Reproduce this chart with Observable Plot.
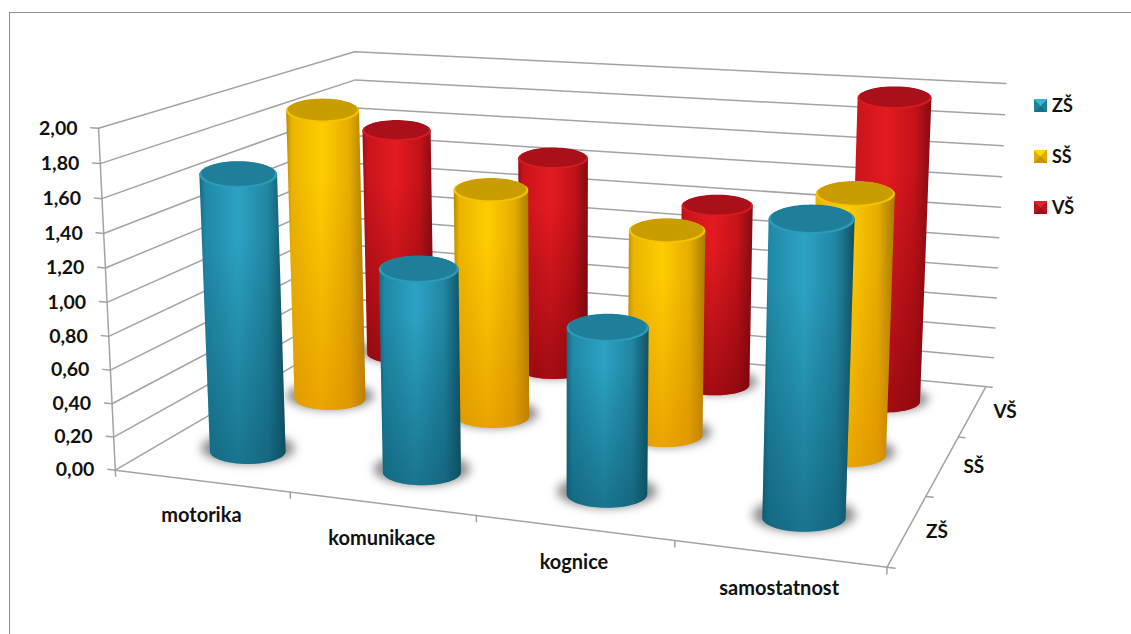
<!DOCTYPE html>
<html lang="cs">
<head>
<meta charset="utf-8">
<script src="https://cdn.jsdelivr.net/npm/d3@7"></script>
<script src="https://cdn.jsdelivr.net/npm/@observablehq/plot@0.6"></script>
<style>
  html, body { margin: 0; background: #fff; }
  #chart { position: relative; width: 1131px; height: 634px; overflow: hidden; font-family: Lato, sans-serif; }
  #frame { position: absolute; left: 9px; top: 12px; right: -4px; bottom: -4px; border: 1.6px solid #8f8f8f; }
  #legend { position: absolute; left: 1034px; top: 0; font-weight: 700; font-size: 18px; color: #111; }
  #legend .item { position: absolute; left: 0; white-space: nowrap; line-height: 20px; }
  #legend .key { position: absolute; left: 0; top: 4px; width: 13px; height: 13px; }
  #legend .name { position: absolute; left: 18px; top: 0; }
  svg { position: absolute; left: 0; top: 0; }
</style>
</head>
<body>
<div id="chart"><div id="frame"></div></div>
<script>
// Mean scores by education level across four domains.
const categories = ["motorika", "komunikace", "kognice", "samostatnost"];
const seriesNames = ["ZŠ", "SŠ", "VŠ"];
const valuesZS = [1.67, 1.20, 0.96, 1.65];
const valuesSS = [1.87, 1.44, 1.27, 1.57];
const valuesVS = [1.56, 1.44, 1.20, 1.96];
const seriesValues = [valuesZS, valuesSS, valuesVS];
const valueTicks = [0, 0.2, 0.4, 0.6, 0.8, 1, 1.2, 1.4, 1.6, 1.8, 2];
const valueMax = 2;

const width = 1131, height = 634;

// Camera calibration: box corners in (category, series, value) unit space → screen.
const cameraAnchors = [
  [0, 0, 0, 119, 468], [1, 0, 0, 887, 568], [1, 1, 0, 987, 385], [0, 1, 0, 355, 328],
  [0, 0, 1, 93, 129], [0, 1, 1, 360, 50], [1, 1, 1, 997, 83], [0.25, 0, 0, 290, 491]
];

function solveCamera(anchors) {
  const rows = [], rhs = [];
  for (const [X, Y, Z, x, y] of anchors) {
    rows.push([X, Y, Z, 1, 0, 0, 0, 0, -x * X, -x * Y, -x * Z]); rhs.push(x);
    rows.push([0, 0, 0, 0, X, Y, Z, 1, -y * X, -y * Y, -y * Z]); rhs.push(y);
  }
  const n = 11;
  const M = d3.range(n).map(i => d3.range(n + 1).map(j =>
    j < n ? d3.sum(rows, r => r[i] * r[j]) : d3.sum(rows, (r, k) => r[i] * rhs[k])));
  for (let c = 0; c < n; c++) {
    let p = c;
    for (let r = c + 1; r < n; r++) if (Math.abs(M[r][c]) > Math.abs(M[p][c])) p = r;
    [M[c], M[p]] = [M[p], M[c]];
    for (let r = 0; r < n; r++) if (r !== c) {
      const f = M[r][c] / M[c][c];
      for (let k = c; k <= n; k++) M[r][k] -= f * M[c][k];
    }
  }
  return M.map((row, i) => row[n] / row[i]);
}
const cam = solveCamera(cameraAnchors);
function project(u, v, w) {
  const d = cam[8] * u + cam[9] * v + cam[10] * w + 1;
  return [(cam[0] * u + cam[1] * v + cam[2] * w + cam[3]) / d,
          (cam[4] * u + cam[5] * v + cam[6] * w + cam[7]) / d];
}

// Cylinder rings: width follows the local category scale, the ellipse stays level on screen
// and flattens a little towards the back of the box.
const radiusU = 0.053;
const steps = d3.range(0, 72);
function ring(u, v, w, scale = 1, lift = 0) {
  const [cx, cy] = project(u, v, w);
  const taper = 1.07 - 0.12 * u;
  const aspect = 0.345 - 0.06 * v;
  const rx = (project(u + radiusU, v, w)[0] - project(u - radiusU, v, w)[0]) / 2 * scale * taper;
  return steps.map(i => {
    const t = i / 72 * 2 * Math.PI;
    return [cx + rx * Math.cos(t), cy - lift + rx * aspect * Math.sin(t)];
  });
}

const palette = [
  {id: "zs", cap: "#1f7f9b", rim: "#2b9dbc", low: "#0a4f63",
   stops: [[0, "#17677f"], [0.07, "#2088a6"], [0.45, "#2ca3c4"], [0.8, "#2185a2"], [1, "#124f62"]]},
  {id: "ss", cap: "#c99d00", rim: "#f5c400", low: "#d98500",
   stops: [[0, "#b58a00"], [0.07, "#eab400"], [0.45, "#ffcd00"], [0.8, "#e6ad00"], [1, "#a67b00"]]},
  {id: "vs", cap: "#aa1019", rim: "#d81c22", low: "#6d0008",
   stops: [[0, "#98101a"], [0.07, "#c8141b"], [0.45, "#e41b20"], [0.8, "#c31219"], [1, "#840c13"]]}
];

const gradients = () => {
  const defs = d3.create("svg:defs");
  for (const p of palette) {
    const g = defs.append("linearGradient").attr("id", `body-${p.id}`);
    for (const [o, c] of p.stops) g.append("stop").attr("offset", o).attr("stop-color", c);
    const s = defs.append("linearGradient").attr("id", `low-${p.id}`)
      .attr("x1", 0).attr("x2", 0).attr("y1", 0).attr("y2", 1);
    s.append("stop").attr("offset", 0.25).attr("stop-color", p.low).attr("stop-opacity", 0);
    s.append("stop").attr("offset", 1).attr("stop-color", p.low).attr("stop-opacity", 0.55);
  }
  return defs.node();
};

const outline = (pts, opts) => Plot.line(pts, {x: "0", y: "1", curve: "linear", strokeWidth: 0, stroke: "none", ...opts});

function cylinder(i, j) {
  const value = seriesValues[j][i], p = palette[j];
  const u = (i + 0.5) / categories.length, v = (j + 0.5) / seriesNames.length, w = value / valueMax;
  const hull = d3.polygonHull([...ring(u, v, 0), ...ring(u, v, w)]);
  return [
    outline(ring(u, v, 0, 1.24, 3), {fill: "#333", fillOpacity: 0.55, imageFilter: "blur(5px)"}),
    outline(hull, {fill: `url(#body-${p.id})`}),
    outline(hull, {fill: `url(#low-${p.id})`}),
    outline(ring(u, v, w), {fill: p.rim}),
    outline(ring(u, v, w, 0.95, 1.2), {fill: p.cap, imageFilter: "blur(0.7px)"})
  ];
}

const gridStyle = {x: "0", y: "1", stroke: "#a3a3a3", strokeWidth: 1.5};
const seg = (a, b) => Plot.line([project(...a), project(...b)], gridStyle);

const marks = [gradients];
for (const t of valueTicks) {
  const w = t / valueMax;
  marks.push(Plot.line([project(-0.011, 0, w), project(0, 0, w), project(0, 1, w), project(1.009, 1, w)], gridStyle));
}
marks.push(seg([0, 0, 0], [0, 0, 1]));
marks.push(seg([0, 0, 0], [1, 0, 0]));
marks.push(seg([1, 0, 0], [1, 1, 0]));
for (const i of d3.range(categories.length + 1)) {
  marks.push(seg([i / categories.length, 0, 0], [i / categories.length, 0, -0.018]));
}
for (const j of d3.range(seriesNames.length)) {
  marks.push(seg([1, j / seriesNames.length, 0], [1.009, j / seriesNames.length, 0]));
}
for (const j of d3.range(seriesNames.length - 1, -1, -1)) {
  for (const i of d3.range(categories.length)) marks.push(...cylinder(i, j));
}

// Axis labels, placed from the same projection as the box.
const labelFont = {fontFamily: "Lato, sans-serif", fontWeight: 700, fill: "#111", stroke: "none"};
marks.push(Plot.text(valueTicks, {
  x: t => project(0, 0, t / valueMax)[0], y: t => project(0, 0, t / valueMax)[1],
  text: t => t.toFixed(2).replace(".", ","), textAnchor: "end", dx: -21, fontSize: 19.5, ...labelFont
}));
marks.push(Plot.text(categories, {
  x: (d, i) => project((i + 0.5) / categories.length, 0, 0)[0],
  y: (d, i) => project((i + 0.5) / categories.length, 0, 0)[1],
  text: d => d, textAnchor: "middle", dy: 35, fontSize: 20, ...labelFont
}));
marks.push(Plot.text(seriesNames, {
  x: (d, j) => project(1.035 + 0.005 * j, (j + 0.5) / seriesNames.length, 0)[0],
  y: (d, j) => project(1.035 + 0.005 * j, (j + 0.5) / seriesNames.length, 0)[1],
  text: d => d, textAnchor: "middle", dy: -2, fontSize: 19, ...labelFont
}));

const chart = Plot.plot({
  width, height, margin: 0,
  x: {type: "linear", domain: [0, width], range: [0, width], axis: null},
  y: {type: "linear", domain: [0, height], range: [0, height], axis: null},
  marks
});
const host = document.getElementById("chart");
host.appendChild(chart);

// Legend with bevelled colour keys, stacked on the right of the box.
const legend = document.createElement("div");
legend.id = "legend";
const legendKeys = [["#1c7f9c", "#3bb4d2", "#1a6e86"], ["#e3ac00", "#ffd800", "#c69400"], ["#b8141b", "#dc262b", "#9a0f16"]];
seriesNames.forEach((name, j) => {
  const item = document.createElement("div");
  item.className = "item";
  item.style.top = (95 + j * 51) + "px";
  const [mid, hi, lo] = legendKeys[j];
  item.innerHTML = `<span class="key" style="background:conic-gradient(from 315deg, ${hi} 0 25%, ${mid} 25% 50%, ${lo} 50% 75%, ${mid} 75% 100%)"></span><span class="name">${name}</span>`;
  legend.appendChild(item);
});
host.appendChild(legend);
</script>
</body>
</html>
